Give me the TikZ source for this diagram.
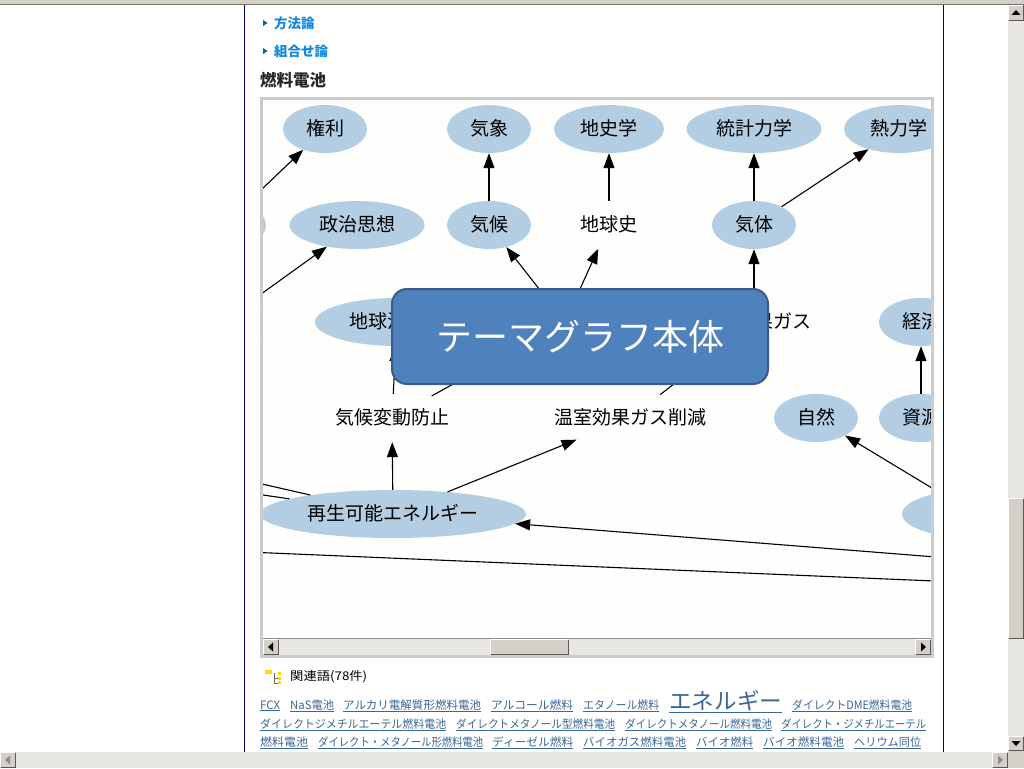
\documentclass[tikz,border=0pt]{standalone}
\usepackage{fontspec}
\usepackage{graphicx}
\setmainfont{Noto Sans CJK JP}
\usetikzlibrary{arrows.meta,shapes.geometric}
\definecolor{topicblue}{HTML}{B3CDE3}
\definecolor{paleline}{HTML}{F7F9F7}
\definecolor{graphbg}{HTML}{FEFFFD}
\definecolor{framegray}{HTML}{CCCCCC}
\definecolor{boxfill}{HTML}{4F81BD}
\definecolor{boxline}{HTML}{385D8A}
\definecolor{btnface}{HTML}{D4D0C8}
\definecolor{trackgray}{HTML}{E9E7E3}
\definecolor{linkblue}{HTML}{3A6699}
\definecolor{headblue}{HTML}{1288E0}
\definecolor{pagenavy}{HTML}{000066}
\newcommand{\pxfont}[1]{\fontsize{#1}{#1}\selectfont}
\newcommand{\linkword}[2]{\resizebox{#1pt}{\height}{\underline{#2}}}
\newcommand{\winbutton}[4]{
\fill[btnface] (#1,#2) rectangle (#3,#4);
\draw[white,line width=1pt] (#1+.5,#4-1) -- (#1+.5,#2+.5) -- (#3-1,#2+.5);
\draw[black!65,line width=1pt] (#1+.5,#4-.5) -- (#3-.5,#4-.5) -- (#3-.5,#2+.5);
}
\tikzset{
topic/.style={ellipse,fill=topicblue,inner sep=0pt,minimum height=48pt,text height=16pt,text depth=3.6pt,font=\pxfont{19}},
pale/.style={ellipse,draw=paleline,fill=graphbg,inner sep=0pt,minimum height=48pt,text height=16pt,text depth=3.6pt,font=\pxfont{19}},
two/.style={minimum width=84pt},
three/.style={minimum width=110pt},
four/.style={minimum width=135pt},
edge/.style={line width=1.1pt,-{Triangle[length=15pt,width=11pt]}},
tail/.style={line width=1.1pt},
linkw/.style={anchor=base west,inner sep=0pt,text=linkblue,font=\pxfont{11.5}},
head/.style={anchor=west,inner sep=0pt,text=headblue,font=\pxfont{13.5}\bfseries}
}
\begin{document}
\begin{tikzpicture}[x=1pt,y=-1pt]
\useasboundingbox (0,0) rectangle (1024,768);
\fill[white] (0,0) rectangle (1024,768);
% page
\fill[btnface] (0,0) rectangle (1024,4);
\draw[black!55,line width=1pt] (0,4.5) -- (1024,4.5);
\draw[pagenavy,line width=1pt] (244.5,5) -- (244.5,752);
\draw[pagenavy,line width=1pt] (943.5,5) -- (943.5,752);
\fill[headblue!70!black] (263,20) -- (267.5,23) -- (263,26) -- cycle;
\fill[headblue!70!black] (263,48) -- (267.5,51) -- (263,54) -- cycle;
\node[head] (hmethod) at (274,23) {方法論};
\node[head] (hcombo) at (274,51) {組合せ論};
\node[anchor=west,inner sep=0pt,text=black!85,font=\pxfont{16.5}\bfseries] (htitle) at (260,80) {燃料電池};
% graph
\fill[graphbg] (262,99) rectangle (932,638);
\begin{scope}
\clip (263,100) rectangle (931,638);
\node[topic,two] (kenri) at (325,129) {権利};
\node[topic,two] (kisho) at (489,129) {気象};
\node[topic,three] (chishi) at (609,129) {地史学};
\node[topic,four] (toukei) at (754,129) {統計力学};
\node[topic,three] (netsu) at (899,129) {熱力学};
\node[topic,two] (lefta) at (224,225) {};
\node[topic,four] (seiji) at (357,225) {政治思想};
\node[topic,two] (kikou) at (489,225) {気候};
\node[pale,three] (chikyushi) at (609,225) {地球史};
\node[topic,two] (kitai) at (754,225) {気体};
\node[pale,minimum width=180pt] (leftb) at (200,322) {};
\node[topic,minimum width=164pt] (ondanka) at (397,322) {地球温暖化};
\node[pale,minimum width=186pt] (ghg) at (754,322) {温室効果ガス};
\node[topic,two] (keizai) at (921,322) {経済};
\node[pale,minimum width=190pt] (boushi) at (392,418) {気候変動防止};
\node[pale,minimum width=240pt] (sakugen) at (630,418) {温室効果ガス削減};
\node[topic,two] (shizen) at (816,418) {自然};
\node[topic,two] (shigen) at (921,418) {資源};
\node[topic,minimum width=266pt] (saisei) at (393,514) {再生可能エネルギー};
\node[topic,minimum width=146pt] (rightc) at (975,514) {};
\coordinate (hidden) at (565,322);
\coordinate (offa) at (200,248);
\coordinate (offb) at (200,338);
\coordinate (offc) at (140,456);
\coordinate (offd) at (140,477);
\coordinate (offe) at (1100,570);
\coordinate (offf) at (200,550);
\coordinate (offg) at (1100,588);
\draw[edge] (offa) -- (kenri);
\draw[edge] (offb) -- (seiji);
\draw[edge] (kikou) -- (kisho);
\draw[edge] (chikyushi) -- (chishi);
\draw[edge] (kitai) -- (toukei);
\draw[edge] (kitai) -- (netsu);
\draw[edge] (hidden) -- (kikou);
\draw[edge] (hidden) -- (chikyushi);
\draw[edge] (ghg) -- (kitai);
\draw[edge] (boushi) -- (ondanka);
\draw[tail] (boushi) -- (hidden);
\draw[tail] (sakugen) -- (ghg);
\draw[edge] (shigen) -- (keizai);
\draw[edge] (rightc) -- (shizen);
\draw[edge] (saisei) -- (boushi);
\draw[edge] (saisei) -- (sakugen);
\draw[edge] (offe) -- (saisei);
\draw[tail] (saisei) -- (offc);
\draw[tail] (saisei) -- (offd);
\draw[tail] (offf) -- (offg);
\end{scope}
\node[draw=boxline,line width=2pt,fill=boxfill,rounded corners=15pt,minimum width=376pt,minimum height=95pt,inner sep=0pt,text=white,font=\pxfont{36}] (mainbox) at (580,336.5) {テーマグラフ本体};
% inner scrollbar
\fill[trackgray] (263,638) rectangle (931,655);
\draw[black!45,line width=1pt] (263,638.5) -- (931,638.5);
\winbutton{263}{639}{279}{655}
\winbutton{915}{639}{931}{655}
\winbutton{490}{639}{569}{655}
\fill[black] (268,647) -- (273,642.5) -- (273,651.5) -- cycle;
\fill[black] (926,647) -- (921,642.5) -- (921,651.5) -- cycle;
\draw[framegray,line width=3pt] (261.5,98.5) rectangle (932.5,656.5);
% related words
\fill[yellow!80!orange] (265,670) rectangle (272,674);
\fill[yellow!75!orange] (278,672) rectangle (281,675);
\fill[yellow!75!orange] (278,677) rectangle (281,680);
\fill[yellow!75!orange] (278,681) rectangle (281,684);
\draw[black!60,line width=.8pt] (274,673) -- (274,683) -- (278,683);
\draw[black!60,line width=.8pt] (274,678) -- (278,678);
\node[anchor=west,inner sep=0pt,font=\pxfont{12}] (kanren) at (290,677) {\resizebox{77pt}{\height}{関連語(78件)}};
\node[linkw] (la) at (260,709) {\linkword{20}{FCX}};
\node[linkw] (lb) at (290,709) {\linkword{44}{NaS電池}};
\node[linkw] (lc) at (343,709) {\linkword{138}{アルカリ電解質形燃料電池}};
\node[linkw] (ld) at (491,709) {\linkword{82}{アルコール燃料}};
\node[linkw] (le) at (583,709) {\linkword{76}{エタノール燃料}};
\node[linkw,font=\pxfont{22.5}] (lf) at (669,709) {\linkword{113}{エネルギー}};
\node[linkw] (lg) at (792,709) {\linkword{120}{ダイレクトDME燃料電池}};
\node[linkw] (lh) at (260,728) {\linkword{186}{ダイレクトジメチルエーテル燃料電池}};
\node[linkw] (li) at (456,728) {\linkword{159}{ダイレクトメタノール型燃料電池}};
\node[linkw] (lj) at (625,728) {\linkword{147}{ダイレクトメタノール燃料電池}};
\node[linkw] (lk) at (781,728) {\linkword{145}{ダイレクト・ジメチルエーテル}};
\node[linkw] (ll) at (260,746) {\linkword{48}{燃料電池}};
\node[linkw] (lm) at (318,746) {\linkword{165}{ダイレクト・メタノール形燃料電池}};
\node[linkw] (ln) at (492,746) {\linkword{81}{ディーゼル燃料}};
\node[linkw] (lo) at (583,746) {\linkword{103}{バイオガス燃料電池}};
\node[linkw] (lp) at (696,746) {\linkword{57}{バイオ燃料}};
\node[linkw] (lq) at (763,746) {\linkword{81}{バイオ燃料電池}};
\node[linkw] (lr) at (854,746) {\linkword{67}{ヘリウム同位}};
% window scrollbars
\fill[trackgray] (1008,5) rectangle (1024,752);
\fill[trackgray] (0,752) rectangle (1008,768);
\fill[btnface] (1008,750) rectangle (1024,768);
\winbutton{1008}{5}{1024}{21}
\winbutton{1008}{498}{1024}{639}
\winbutton{1008}{736}{1024}{751}
\winbutton{0}{752}{16}{768}
\winbutton{992}{752}{1008}{768}
\fill[black] (1016,10) -- (1011.5,15) -- (1020.5,15) -- cycle;
\fill[black] (1016,746) -- (1011.5,741) -- (1020.5,741) -- cycle;
\fill[black!45] (5,760) -- (10,755.5) -- (10,764.5) -- cycle;
\fill[black!45] (1003,760) -- (998,755.5) -- (998,764.5) -- cycle;
\end{tikzpicture}
\end{document}
